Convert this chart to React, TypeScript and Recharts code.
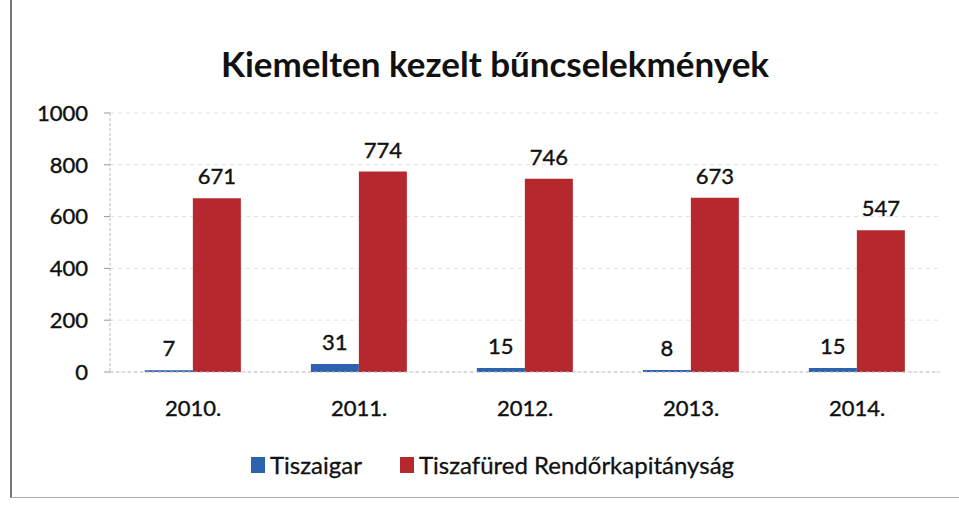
import React from "react";
import { BarChart, Bar, XAxis, YAxis, CartesianGrid, LabelList } from "recharts";

const years = ["2010.", "2011.", "2012.", "2013.", "2014."];
const tiszaigar = [7, 31, 15, 8, 15];
const tiszafured = [671, 774, 746, 673, 547];
const yTicks = [0, 200, 400, 600, 800, 1000];
const seriesNames = ["Tiszaigar", "Tiszafüred Rendőrkapitányság"];
const seriesColors = ["#2C63AE", "#B4282E"];

const data = years.map((y, i) => ({ year: y, a: tiszaigar[i], b: tiszafured[i] }));

const FONT = "Lato, 'Open Sans', sans-serif";
const textStyle = { fontSize: 22, fill: "#111", fontFamily: FONT, stroke: "#111", strokeWidth: 0.4 };

export default function App() {
  return (
    <div style={{ position: "absolute", left: 0, top: 0, width: 959, height: 508, background: "#fff", fontFamily: FONT }}>
      <div style={{ position: "absolute", left: 10, top: 0, width: 949, height: 497, borderLeft: "2px solid #777", borderBottom: "1px solid #aaa" }} />
      <div style={{ position: "absolute", left: 0, width: 990, top: 42, textAlign: "center", fontSize: 35, fontWeight: 700, color: "#111" }}>
        Kiemelten kezelt bűncselekmények
      </div>
      <div style={{ position: "absolute", left: 0, width: 985, top: 450, display: "flex", justifyContent: "center", alignItems: "center", fontSize: 24, color: "#111", WebkitTextStroke: "0.3px #111" }}>
        {seriesNames.map((n, i) => (
          <span key={n} style={{ display: "inline-flex", alignItems: "center", marginRight: i === 0 ? 38 : 0 }}>
            <span style={{ display: "inline-block", width: 14, height: 16, background: seriesColors[i], marginRight: 5 }} />
            {n}
          </span>
        ))}
      </div>
      <div style={{ position: "absolute", left: 0, top: 0 }}>
        <BarChart
          width={959}
          height={508}
          data={data}
          margin={{ top: 113, right: 19, bottom: 76, left: 0 }}
          barCategoryGap="21%"
          barGap={0}
        >
          <CartesianGrid vertical={false} stroke="#e8dcde" strokeDasharray="4 4" />
          <YAxis
            width={110}
            domain={[0, 1000]}
            ticks={yTicks}
            interval={0}
            tick={textStyle}
            tickLine={{ stroke: "#999" }}
            axisLine={{ stroke: "#bbb", strokeDasharray: "3 2" }}
            tickSize={6}
            tickMargin={16}
          />
          <XAxis
            dataKey="year"
            height={60}
            tick={textStyle}
            tickLine={false}
            axisLine={{ stroke: "#bbb", strokeDasharray: "3 3" }}
            tickMargin={22}
          />
          <Bar dataKey="a" name={seriesNames[0]} fill={seriesColors[0]} isAnimationActive={false}>
            <LabelList dataKey="a" position="top" offset={14} style={textStyle} />
          </Bar>
          <Bar dataKey="b" name={seriesNames[1]} fill={seriesColors[1]} isAnimationActive={false}>
            <LabelList dataKey="b" position="top" offset={14} style={textStyle} />
          </Bar>
        </BarChart>
      </div>
    </div>
  );
}
